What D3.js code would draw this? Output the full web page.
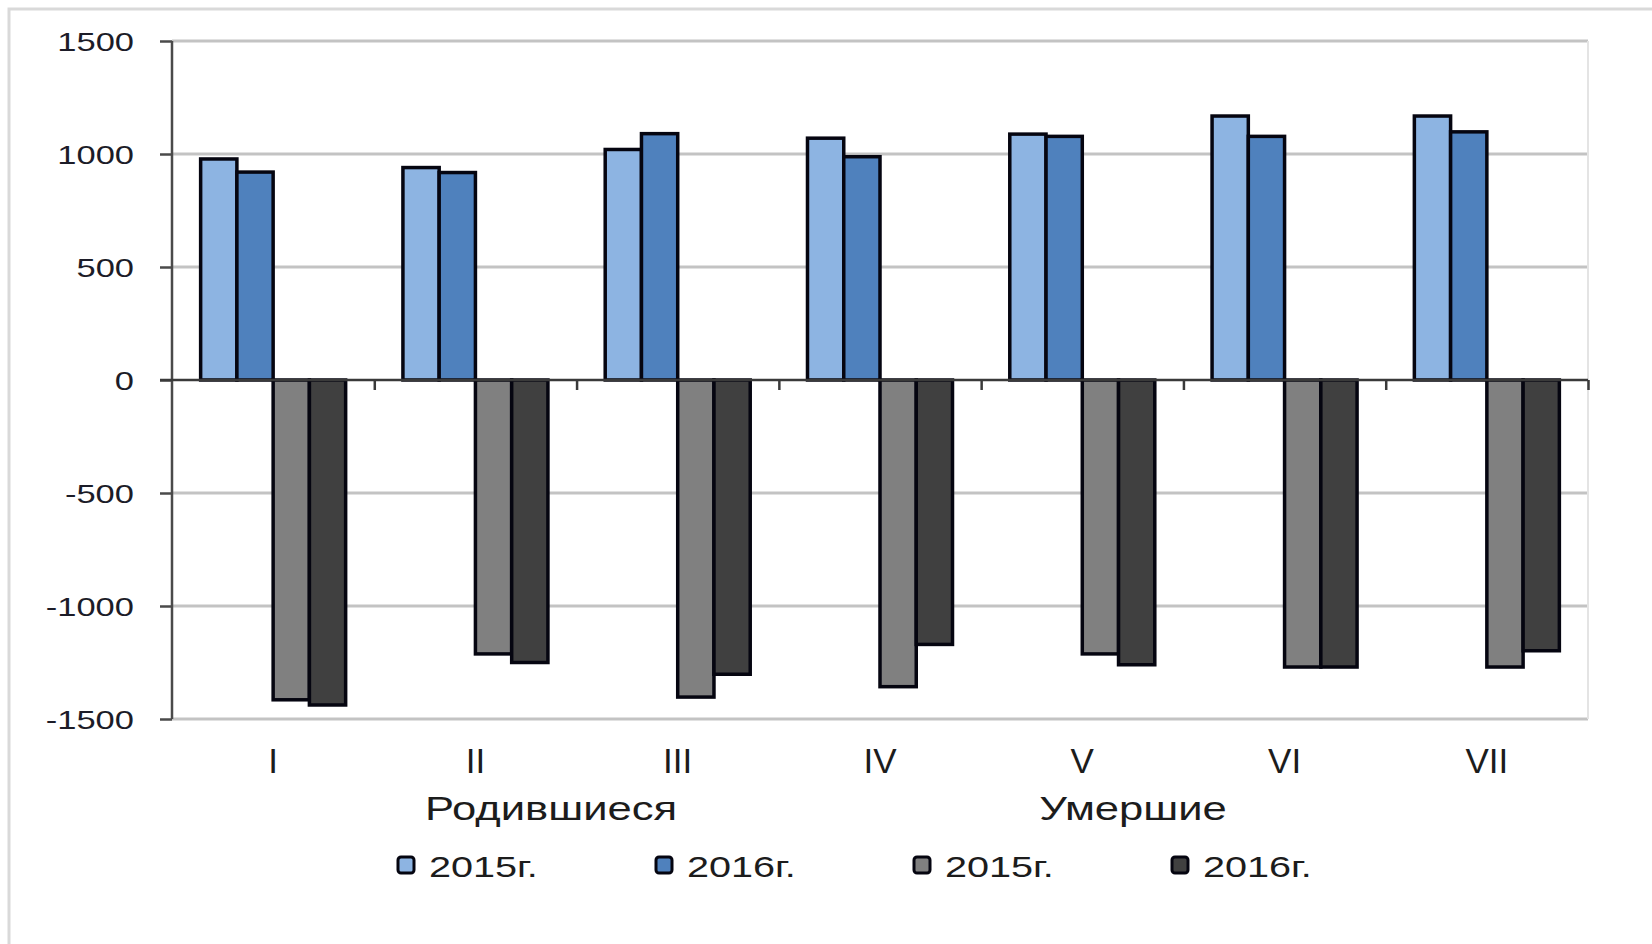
<!DOCTYPE html>
<html>
<head>
<meta charset="utf-8">
<script src="https://cdn.jsdelivr.net/npm/d3@7"></script>
<style>
  html, body { margin: 0; padding: 0; background: #fff; }
  svg { display: block; font-family: "Liberation Sans", Arial, sans-serif; }
</style>
</head>
<body>
<svg id="chart" width="1652" height="944"></svg>
<script>
// ---- data ----
const categories = ["I", "II", "III", "IV", "V", "VI", "VII"];
const seriesNames = ["births2015", "births2016", "deaths2015", "deaths2016"];
const births2015 = [978, 940, 1020, 1070, 1088, 1168, 1168];
const births2016 = [920, 918, 1090, 988, 1078, 1078, 1098];
const deaths2015 = [-1415, -1212, -1403, -1357, -1212, -1270, -1270];
const deaths2016 = [-1438, -1250, -1302, -1170, -1260, -1270, -1198];
const yTicks = [-1500, -1000, -500, 0, 500, 1000, 1500];
const groupLabels = ["Родившиеся", "Умершие"];
const legendLabels = ["2015г.", "2016г.", "2015г.", "2016г."];
const colors = ["#8db4e2", "#4f81bd", "#808080", "#404040"];

const seriesValues = [births2015, births2016, deaths2015, deaths2016];

// ---- layout ----
const W = 1652, H = 944;
const plot = { left: 172, right: 1588, top: 41, bottom: 719 };
const svg = d3.select("#chart");

svg.append("rect").attr("width", W).attr("height", H).attr("fill", "#fff");
// outer frame (left + top)
svg.append("path").attr("d", `M9,${H} L9,9 L${W},9`)
  .attr("fill", "none").attr("stroke", "#d9d9d9").attr("stroke-width", 3);

const y = d3.scaleLinear().domain([-1500, 1500]).range([plot.bottom, plot.top]);
const x0 = d3.scaleBand().domain(categories).range([plot.left, plot.right]).padding(0);
const x1 = d3.scaleBand().domain(seriesNames).range([0, x0.bandwidth()])
  .paddingInner(0).paddingOuter(0.79);

// gridlines
svg.append("g").selectAll("line").data(yTicks.filter(t => t !== 0)).join("line")
  .attr("x1", plot.left).attr("x2", plot.right)
  .attr("y1", d => y(d)).attr("y2", d => y(d))
  .attr("stroke", "#c3c3c3").attr("stroke-width", 3);
// right border of plot
svg.append("line").attr("x1", plot.right).attr("x2", plot.right)
  .attr("y1", plot.top).attr("y2", plot.bottom)
  .attr("stroke", "#e4e4e4").attr("stroke-width", 2);

// bars
const rows = categories.map((c, i) => ({ cat: c, vals: seriesNames.map((s, k) => ({ s, k, v: seriesValues[k][i] })) }));
const gBars = svg.append("g");
gBars.selectAll("g").data(rows).join("g")
  .attr("transform", d => `translate(${x0(d.cat)},0)`)
  .selectAll("rect").data(d => d.vals).join("rect")
  .attr("x", d => x1(d.s))
  .attr("width", x1.bandwidth())
  .attr("y", d => y(Math.max(0, d.v)))
  .attr("height", d => Math.abs(y(d.v) - y(0)))
  .attr("fill", d => colors[d.k])
  .attr("stroke", "#050510").attr("stroke-width", 3.5);

// y axis
const yAxis = svg.append("g").attr("transform", `translate(${plot.left},0)`)
  .call(d3.axisLeft(y).tickValues(yTicks).tickSize(12).tickPadding(26).tickFormat(d => String(d)));
yAxis.select(".domain").attr("stroke", "#4a4a4a").attr("stroke-width", 2.5)
  .attr("d", `M0,${plot.top}V${plot.bottom}`);
yAxis.selectAll(".tick line").attr("stroke", "#4a4a4a").attr("stroke-width", 2.5);
yAxis.selectAll(".tick text")
  .attr("fill", "#1c1c28").attr("font-size", 25).attr("dy", "0.36em")
  .attr("font-family", "'Liberation Sans', Arial, sans-serif")
  .each(function () {
    const w = this.getComputedTextLength();
    d3.select(this).attr("textLength", w * 1.38).attr("lengthAdjust", "spacingAndGlyphs");
  });

// x axis at zero with boundary ticks
const xb = d3.scaleLinear().domain([0, categories.length]).range([plot.left, plot.right]);
const xTickAxis = svg.append("g").attr("transform", `translate(0,${y(0)})`)
  .call(d3.axisBottom(xb).tickValues(d3.range(1, categories.length + 1)).tickSize(10).tickFormat(""));
xTickAxis.select(".domain").attr("stroke", "#3a3a3a").attr("stroke-width", 2.5)
  .attr("d", `M${plot.left - 12},0H${plot.right}`);
xTickAxis.selectAll(".tick line").attr("stroke", "#3a3a3a").attr("stroke-width", 2.5);

// category labels (low position)
const xLab = svg.append("g").attr("transform", `translate(0,${plot.bottom})`)
  .call(d3.axisBottom(x0).tickSize(0));
xLab.select(".domain").remove();
xLab.selectAll(".tick text").attr("y", 54).attr("dy", 0)
  .attr("font-size", 35).attr("fill", "#1c1c1c")
  .attr("font-family", "'Liberation Sans', Arial, sans-serif");

// group labels
const groupCenters = [551, 1133];
svg.append("g").selectAll("text").data(groupLabels).join("text")
  .attr("x", (d, i) => groupCenters[i]).attr("y", 820)
  .attr("text-anchor", "middle").attr("font-size", 33).attr("fill", "#1c1c1c")
  .text(d => d)
  .each(function () {
    const w = this.getComputedTextLength();
    d3.select(this).attr("textLength", w * 1.32).attr("lengthAdjust", "spacingAndGlyphs");
  });

// legend
const legend = svg.append("g");
const li = legend.selectAll("g").data(legendLabels).join("g")
  .attr("transform", (d, i) => `translate(${398 + i * 258},0)`);
li.append("rect").attr("x", 0).attr("y", 857).attr("width", 16).attr("height", 16)
  .attr("rx", 3).attr("fill", (d, i) => colors[i]).attr("stroke", "#050510").attr("stroke-width", 3);
li.append("text").attr("x", 31).attr("y", 877).attr("font-size", 30).attr("fill", "#1c1c1c")
  .text(d => d)
  .each(function () {
    const w = this.getComputedTextLength();
    d3.select(this).attr("textLength", w * 1.32).attr("lengthAdjust", "spacingAndGlyphs");
  });
</script>
</body>
</html>
